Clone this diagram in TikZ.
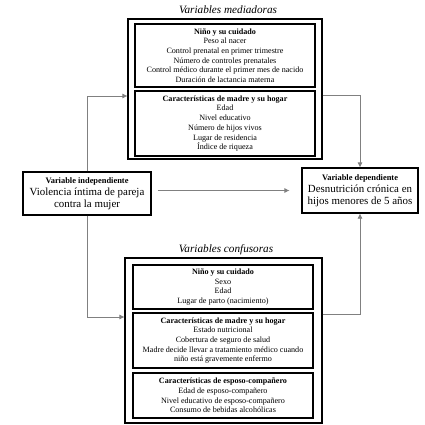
\documentclass[tikz,border=0pt]{standalone}
\usepackage{fontspec}
\setmainfont{Liberation Serif}
\usetikzlibrary{arrows.meta}
\begin{document}
\begin{tikzpicture}[x=1pt,y=-1pt,
  box/.style={draw, line width=1.1pt, inner sep=0pt, align=center},
  small/.style={font=\fontsize{8.1}{9.7}\selectfont},
  big/.style={font=\fontsize{10.9}{12}\selectfont},
  head/.style={font=\fontsize{11.2}{12}\selectfont\itshape},
  link/.style={draw=gray, line width=0.6pt, -{Latex[length=5pt,width=5pt]}}]
\useasboundingbox (0,0) rectangle (424,425);
% mediadoras
\node[head] (medtitle) at (228,10) {Variables mediadoras};
\node[box, minimum width=194pt, minimum height=140pt] (medout) at (225,89) {};
\node[box, small, minimum width=180pt, minimum height=63pt] (med1) at (225,55.5) {\textbf{Niño y su cuidado}\\Peso al nacer\\Control prenatal en primer trimestre\\Número de controles prenatales\\Control médico durante el primer mes de nacido\\Duración de lactancia materna};
\node[box, small, minimum width=180pt, minimum height=65pt] (med2) at (225,123.5) {\textbf{Características de madre y su hogar}\\Edad\\Nivel educativo\\Número de hijos vivos\\Lugar de residencia\\Índice de riqueza};
% variables
\node[box, big, minimum width=128pt, minimum height=43pt] (indep) at (87,193.5) {{\fontsize{8.4}{10}\selectfont\bfseries Variable independiente}\\Violencia íntima de pareja\\contra la mujer};
\node[box, big, minimum width=116pt, minimum height=45pt] (dep) at (360,190.5) {{\fontsize{8.4}{10}\selectfont\bfseries Variable dependiente}\\Desnutrición crónica en\\hijos menores de 5 años};
% confusoras
\node[head] (contitle) at (226,250) {Variables confusoras};
\node[box, minimum width=197pt, minimum height=165pt] (conout) at (223.5,340.5) {};
\node[box, small, minimum width=180pt, minimum height=44pt] (con1) at (223,287) {\textbf{Niño y su cuidado}\\Sexo\\Edad\\Lugar de parto (nacimiento)};
\node[box, small, minimum width=180pt, minimum height=55pt] (con2) at (223,340.5) {\textbf{Características de madre y su hogar}\\Estado nutricional\\Cobertura de seguro de salud\\Madre decide llevar a tratamiento médico cuando\\niño está gravemente enfermo};
\node[box, small, minimum width=180pt, minimum height=45pt] (con3) at (223,395.5) {\textbf{Características de esposo-compañero}\\Edad de esposo-compañero\\Nivel educativo de esposo-compañero\\Consumo de bebidas alcohólicas};
% flechas
\draw[link] (indep.north) |- ([yshift=-7pt]medout.west);
\draw[link] ([yshift=-6pt]medout.east) -| (dep.north);
\draw[link] (indep.south) |- ([yshift=23.5pt]conout.west);
\draw[link] ([yshift=26.5pt]conout.east) -| (dep.south);
\draw[link, shorten <=6pt, shorten >=12pt] (indep.east |- dep.west) -- (dep.west);
\end{tikzpicture}
\end{document}
